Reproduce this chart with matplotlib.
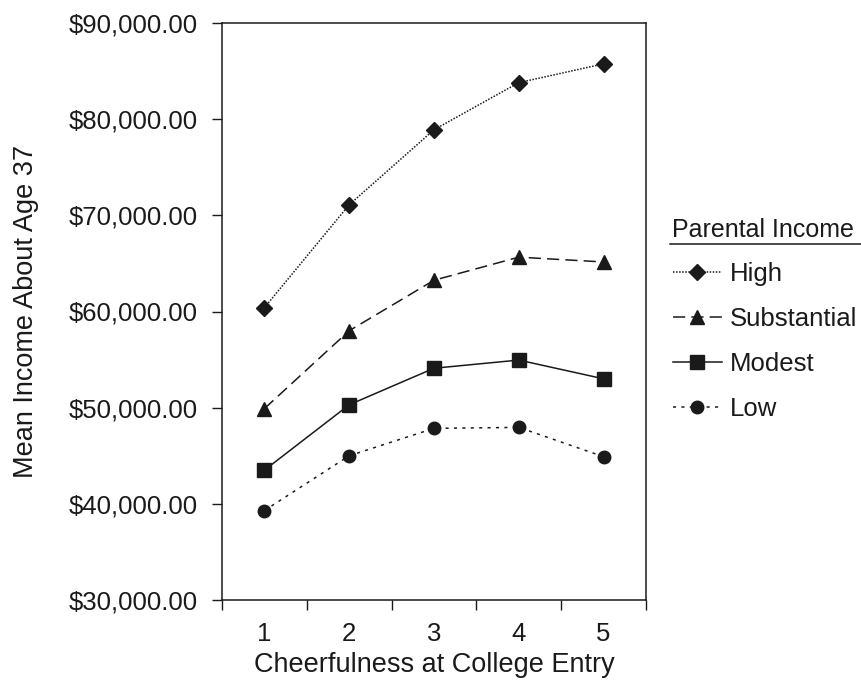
import matplotlib
matplotlib.use("Agg")
import matplotlib.pyplot as plt
from matplotlib.lines import Line2D
from matplotlib.ticker import FuncFormatter, FixedLocator

plt.rcParams['font.family'] = ['Liberation Sans', 'DejaVu Sans']

cheerfulness = [1, 2, 3, 4, 5]
groups = ["High", "Substantial", "Modest", "Low"]
high = [60400, 71100, 78900, 83800, 85750]
substantial = [49900, 58000, 63250, 65650, 65150]
modest = [43500, 50300, 54100, 54950, 53000]
low = [39300, 45000, 47850, 47950, 44900]
series = [high, substantial, modest, low]

# line style, marker, marker size per group
styles = [
    ((0, (1, 1)), 'D', 8),
    ((0, (8, 4)), '^', 10.5),
    ('-', 's', 10),
    ((0, (2, 3.5)), 'o', 9),
]

fig = plt.figure(figsize=(8.61, 6.81), dpi=100)
ax = fig.add_axes([222/861, 1 - 600/681, (646 - 222)/861, (600 - 23)/681])

ink = '#1a1a1a'
for name, vals, (ls, mk, ms) in zip(groups, series, styles):
    ax.plot(cheerfulness, vals, linestyle=ls, marker=mk, markersize=ms,
            color=ink, linewidth=1.1, label=name)

ax.set_xlim(0.5, 5.5)
ax.set_ylim(30000, 90000)
ax.set_yticks(range(30000, 90001, 10000))
ax.yaxis.set_major_formatter(FuncFormatter(lambda v, p: f"${v:,.2f}"))

# tick marks at the bin edges, labels at the centres
ax.xaxis.set_major_locator(FixedLocator([0.5, 1.5, 2.5, 3.5, 4.5, 5.5]))
ax.xaxis.set_major_formatter(FuncFormatter(lambda v, p: ""))
ax.xaxis.set_minor_locator(FixedLocator(cheerfulness))
ax.xaxis.set_minor_formatter(FuncFormatter(lambda v, p: f"{int(v)}"))
ax.tick_params(axis='x', which='minor', length=0, pad=16, labelsize=18.5, colors=ink)
ax.tick_params(axis='x', which='major', length=7.5, width=1, color=ink)
ax.tick_params(axis='y', length=7.5, width=1, pad=10, labelsize=18.5, colors=ink)

for s in ax.spines.values():
    s.set_linewidth(1.1)
    s.set_color(ink)

ax.set_xlabel("Cheerfulness at College Entry", fontsize=19.5, color=ink, labelpad=4)
ax.set_ylabel("Mean Income About Age 37", fontsize=19.5, color=ink, labelpad=21)

leg = ax.legend(loc='upper left', bbox_to_anchor=(673/861, 1 - 262/681),
                bbox_transform=fig.transFigure, frameon=False, fontsize=18.5,
                handlelength=1.9, handletextpad=0.3, labelspacing=0.82,
                borderaxespad=0, borderpad=0)
for t in leg.get_texts():
    t.set_color(ink)

fig.text(672/861, 1 - 230/681, "Parental Income", fontsize=18, color=ink,
         ha='left', va='center')
fig.add_artist(Line2D([670/861, 1.0], [1 - 244/681, 1 - 244/681],
                      transform=fig.transFigure, color=ink, linewidth=1.1))

fig.savefig("out.png", dpi=100)
